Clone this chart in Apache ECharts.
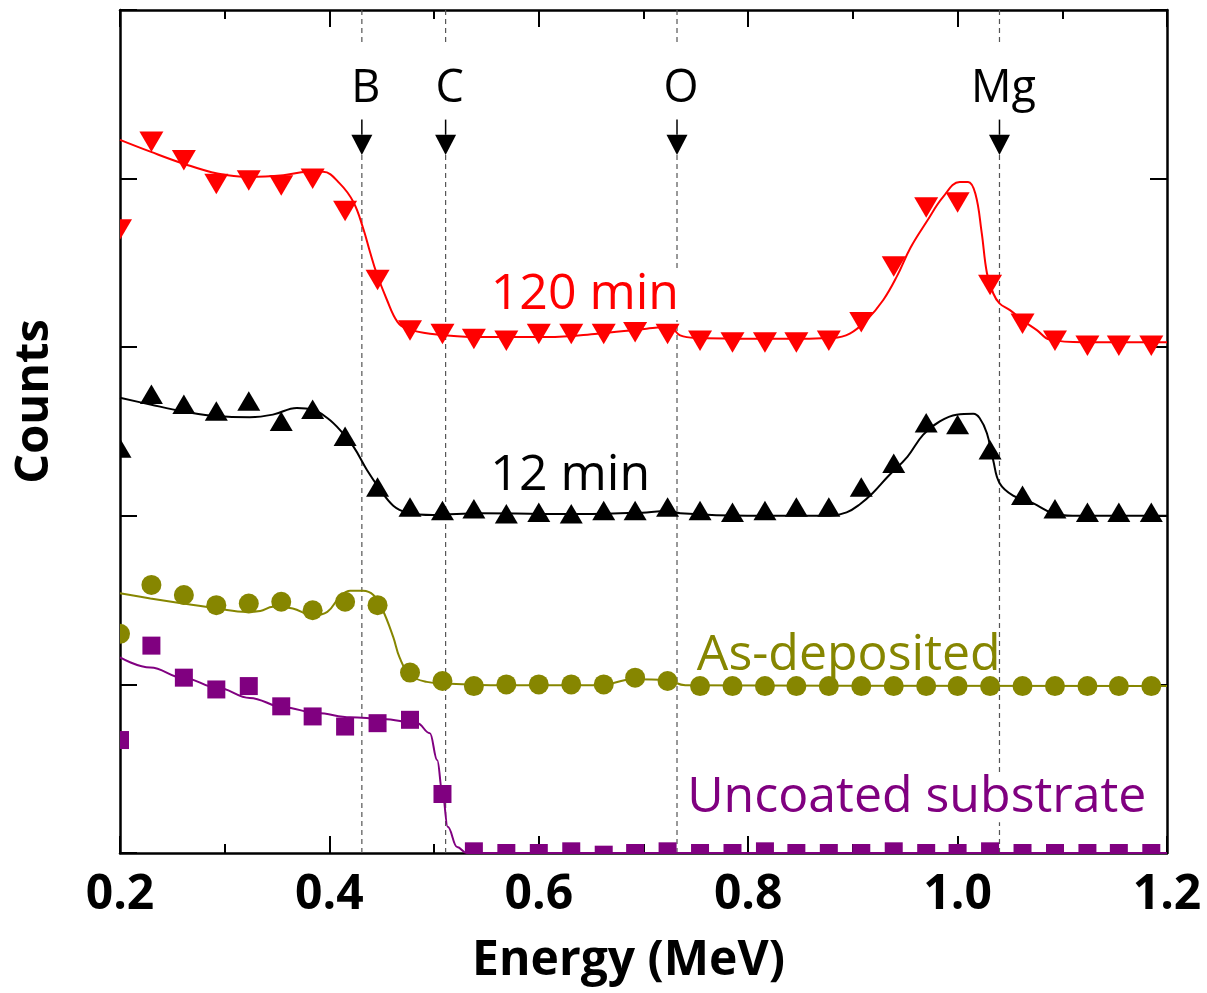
<!DOCTYPE html>
<html>
<head>
<meta charset="utf-8">
<script src="https://cdn.jsdelivr.net/npm/echarts@6/dist/echarts.min.js"></script>
<style>
  html, body { margin: 0; padding: 0; background: #ffffff; }
  #chart { width: 1207px; height: 993px; }
</style>
</head>
<body>
<div id="chart"></div>
<script>
// Channel energies (MeV) of the measured RBS points
const energy = [0.200, 0.230, 0.261, 0.292, 0.323, 0.354, 0.384, 0.415, 0.446, 0.477,
                0.508, 0.538, 0.569, 0.600, 0.631, 0.662, 0.692, 0.723, 0.754, 0.785,
                0.816, 0.846, 0.877, 0.908, 0.939, 0.970, 1.000, 1.031, 1.062, 1.093,
                1.124, 1.154, 1.185];

// Measured counts (stacked, arbitrary units)
const counts120 = [3.70, 4.22, 4.11, 3.97, 3.99, 3.96, 4.00, 3.81, 3.40, 3.10,
                   3.08, 3.05, 3.04, 3.08, 3.08, 3.08, 3.09, 3.08, 3.04, 3.03,
                   3.03, 3.03, 3.04, 3.15, 3.48, 3.83, 3.86, 3.37, 3.14, 3.04,
                   3.01, 3.01, 3.01];
const counts12 = [2.40, 2.72, 2.66, 2.62, 2.68, 2.56, 2.63, 2.47, 2.17, 2.05,
                  2.03, 2.04, 2.01, 2.02, 2.01, 2.03, 2.03, 2.05, 2.03, 2.02,
                  2.03, 2.05, 2.05, 2.17, 2.31, 2.55, 2.54, 2.39, 2.12, 2.04,
                  2.02, 2.02, 2.02];
const countsAsDeposited = [1.30, 1.59, 1.53, 1.47, 1.48, 1.49, 1.44, 1.49, 1.47, 1.07,
                           1.02, 0.99, 1.00, 1.00, 1.00, 1.00, 1.04, 1.02, 0.99, 0.99,
                           0.99, 0.99, 0.99, 0.99, 0.99, 0.99, 0.99, 0.99, 0.99, 0.99,
                           0.99, 0.99, 0.99];
const countsSubstrate = [0.67, 1.23, 1.04, 0.97, 0.99, 0.87, 0.81, 0.75, 0.77, 0.79,
                         0.35, 0.01, 0.00, 0.00, 0.01, -0.01, 0.00, 0.01, 0.00, 0.00,
                         0.01, 0.00, 0.00, 0.00, 0.01, 0.00, 0.00, 0.01, 0.00, 0.00,
                         0.00, 0.00, 0.00];

// Simulated spectra (fits), [energy, counts]
const fit120 = [[0.200,4.23],[0.229,4.16],[0.260,4.09],[0.293,4.03],[0.324,4.01],[0.356,4.02],
  [0.379,4.04],[0.394,4.04],[0.410,3.97],[0.423,3.86],[0.432,3.71],[0.439,3.56],[0.445,3.44],
  [0.455,3.28],[0.465,3.15],[0.474,3.11],[0.496,3.08],[0.544,3.06],[0.608,3.06],[0.656,3.08],
  [0.703,3.11],[0.725,3.12],[0.735,3.07],[0.751,3.055],[0.830,3.05],[0.881,3.055],[0.897,3.08],
  [0.913,3.16],[0.929,3.28],[0.942,3.42],[0.955,3.59],[0.971,3.75],[0.986,3.89],[1.002,3.98],
  [1.010,3.98],[1.017,3.91],[1.023,3.68],[1.028,3.44],[1.034,3.32],[1.040,3.26],[1.050,3.22],
  [1.062,3.16],[1.076,3.10],[1.088,3.045],[1.120,3.03],[1.200,3.03]];
const fit12 = [[0.200,2.70],[0.229,2.66],[0.260,2.62],[0.293,2.59],[0.324,2.585],[0.346,2.60],
  [0.369,2.64],[0.384,2.63],[0.398,2.58],[0.410,2.51],[0.423,2.41],[0.436,2.27],[0.448,2.16],
  [0.461,2.06],[0.474,2.02],[0.499,2.005],[0.544,2.015],[0.639,2.01],[0.703,2.02],[0.725,2.03],
  [0.735,2.015],[0.799,2.00],[0.878,2.00],[0.894,2.02],[0.907,2.07],[0.919,2.135],[0.933,2.23],
  [0.952,2.35],[0.967,2.48],[0.983,2.56],[0.999,2.60],[1.015,2.605],[1.021,2.58],[1.028,2.49],
  [1.034,2.33],[1.040,2.195],[1.053,2.12],[1.072,2.075],[1.091,2.015],[1.110,2.00],[1.200,2.00]];
const fitAsDeposited = [[0.200,1.54],[0.229,1.51],[0.260,1.48],[0.293,1.45],[0.321,1.43],
  [0.334,1.435],[0.346,1.46],[0.365,1.45],[0.384,1.41],[0.398,1.43],[0.410,1.52],[0.420,1.555],
  [0.432,1.555],[0.442,1.53],[0.451,1.44],[0.461,1.28],[0.467,1.16],[0.477,1.055],[0.493,1.015],
  [0.512,1.005],[0.563,0.995],[0.658,0.995],[0.690,1.03],[0.722,1.025],[0.740,0.995],[1.200,0.99]];
const fitSubstrate = [[0.200,1.16],[0.229,1.10],[0.260,1.04],[0.293,0.98],[0.324,0.92],
  [0.356,0.865],[0.388,0.83],[0.420,0.805],[0.451,0.795],[0.484,0.77],[0.496,0.71],[0.503,0.55],
  [0.508,0.355],[0.513,0.155],[0.522,0.035],[0.531,0.00],[1.200,0.00]];

// Surface-edge energies of the elements
const elementNames = ['B', 'C', 'O', 'Mg'];
const elementEnergy = [0.431, 0.511, 0.732, 1.040];

// Curve captions: text, anchor energy, anchor counts
const captionText = ['120 min', '12 min', 'As-deposited', 'Uncoated substrate'];
const captionEnergy = [0.644, 0.630, 0.896, 0.961];
const captionCounts = [3.31, 2.24, 1.17, 0.33];

const RED = '#ff0000', BLACK = '#000000', OLIVE = '#868600', PURPLE = '#800080';
const FONT = '"Open Sans", "Noto Sans", sans-serif';

function markerSeries(name, values, shape, color) {
  return {
    type: 'custom', name: name, z: 4, clip: true, silent: true,
    data: energy.map((e, i) => [e, values[i]]),
    encode: { x: 0, y: 1 },
    renderItem: function (params, api) {
      const p = api.coord([api.value(0), api.value(1)]);
      const x = p[0], y = p[1];
      const style = { fill: color };
      if (shape === 'down') {
        return { type: 'polygon', shape: { points: [[x - 12, y - 10], [x + 12, y - 10], [x, y + 10.5]] }, style };
      }
      if (shape === 'up') {
        return { type: 'polygon', shape: { points: [[x - 11.5, y + 9.5], [x + 11.5, y + 9.5], [x, y - 10]] }, style };
      }
      if (shape === 'circle') {
        return { type: 'circle', shape: { cx: x, cy: y, r: 10 }, style };
      }
      return { type: 'rect', shape: { x: x - 9, y: y - 9, width: 18, height: 18 }, style };
    }
  };
}

function fitSeries(name, pts, color, mono) {
  return {
    type: 'line', name: name, data: pts, z: 3, clip: true, silent: true,
    smooth: 0.4, smoothMonotone: mono ? 'x' : undefined, showSymbol: false, symbol: 'none',
    lineStyle: { color: color, width: 2 }, itemStyle: { color: color }
  };
}

const dashStyle = { stroke: '#555555', lineWidth: 1.2, lineDash: [5, 4] };

const elementSeries = {
  type: 'custom', name: 'edges', z: 1, clip: false, silent: true,
  data: elementEnergy.map((e, i) => [e, i]),
  encode: { x: 0 },
  renderItem: function (params, api) {
    const e = api.value(0);
    const name = elementNames[api.value(1)];
    const top = api.coord([e, 5]);
    const gapStart = api.coord([e, 4.79]);
    const stemTop = api.coord([e, 4.35]);
    const headTop = api.coord([e, 4.26]);
    const tip = api.coord([e, 4.14]);
    const bottom = api.coord([e, 0]);
    const txt = api.coord([e, 4.53]);
    const x = top[0];
    return {
      type: 'group',
      children: [
        { type: 'line', shape: { x1: x, y1: top[1], x2: x, y2: gapStart[1] }, style: dashStyle },
        { type: 'line', shape: { x1: x, y1: tip[1], x2: x, y2: bottom[1] }, style: dashStyle },
        { type: 'line', shape: { x1: x, y1: stemTop[1], x2: x, y2: headTop[1] }, style: { stroke: '#000', lineWidth: 1.5 } },
        { type: 'polygon', shape: { points: [[x - 10.5, headTop[1]], [x + 10.5, headTop[1]], [x, tip[1]]] }, style: { fill: '#000' } },
        { type: 'text', x: x + 4, y: txt[1],
          style: { text: name, fill: '#000', fontSize: 45, fontFamily: FONT, fontWeight: 'normal',
                   align: 'center', textAlign: 'center', verticalAlign: 'middle', textVerticalAlign: 'middle' } }
      ]
    };
  }
};

const captionColors = [RED, BLACK, OLIVE, PURPLE];
const captionBoxed = [true, false, false, true];
const captionSeries = {
  type: 'custom', name: 'captions', z: 2, clip: false, silent: true,
  data: captionText.map((t, i) => [captionEnergy[i], captionCounts[i], i]),
  encode: { x: 0, y: 1 },
  renderItem: function (params, api) {
    const i = api.value(2);
    const p = api.coord([api.value(0), api.value(1)]);
    const style = { text: captionText[i], fill: captionColors[i], fontSize: 50, fontFamily: FONT,
                    align: 'center', textAlign: 'center', verticalAlign: 'middle', textVerticalAlign: 'middle' };
    if (captionBoxed[i]) { style.backgroundColor = '#ffffff'; style.padding = [0, 2]; }
    return { type: 'text', x: p[0], y: p[1], style: style };
  }
};

const axisLineStyle = { color: '#000', width: 2.5 };
const tickStyle = { color: '#000', width: 2 };

const option = {
  animation: false,
  backgroundColor: '#ffffff',
  grid: { left: 120, right: 40, top: 10, bottom: 140, containLabel: false, outerBoundsMode: 'none' },
  xAxis: [
    {
      type: 'value', min: 0.2, max: 1.2, interval: 0.2, position: 'bottom',
      axisLine: { show: true, onZero: false, lineStyle: axisLineStyle },
      axisTick: { show: true, inside: true, length: 17, lineStyle: tickStyle },
      minorTick: { show: true, splitNumber: 2, length: 9, lineStyle: tickStyle },
      splitLine: { show: false }, minorSplitLine: { show: false },
      axisLabel: { show: true, margin: 18, fontSize: 48, fontWeight: 'bold', fontFamily: FONT, color: '#000',
                   formatter: v => v.toFixed(1) },
      name: 'Energy (MeV)', nameLocation: 'middle', nameGap: 84, nameMoveOverlap: false,
      nameTextStyle: { fontSize: 48, fontWeight: 'bold', fontFamily: FONT, color: '#000', padding: [0, 30, 0, 0] }
    },
    {
      type: 'value', min: 0.2, max: 1.2, interval: 0.2, position: 'top',
      axisLine: { show: true, onZero: false, lineStyle: axisLineStyle },
      axisTick: { show: true, inside: true, length: 17, lineStyle: tickStyle },
      minorTick: { show: true, splitNumber: 2, length: 9, lineStyle: tickStyle },
      splitLine: { show: false }, axisLabel: { show: false }
    }
  ],
  yAxis: [
    {
      type: 'value', min: 0, max: 5, interval: 1, position: 'left',
      axisLine: { show: true, onZero: false, lineStyle: axisLineStyle },
      axisTick: { show: true, inside: true, length: 17, lineStyle: tickStyle },
      splitLine: { show: false }, axisLabel: { show: false },
      name: 'Counts', nameLocation: 'middle', nameGap: 62, nameMoveOverlap: false,
      nameTextStyle: { fontSize: 47, fontWeight: 'bold', fontFamily: FONT, color: '#000', padding: [0, 0, 0, 60] }
    },
    {
      type: 'value', min: 0, max: 5, interval: 1, position: 'right',
      axisLine: { show: true, onZero: false, lineStyle: axisLineStyle },
      axisTick: { show: true, inside: true, length: 17, lineStyle: tickStyle },
      splitLine: { show: false }, axisLabel: { show: false }
    }
  ],
  series: [
    elementSeries,
    captionSeries,
    fitSeries('120 min fit', fit120, RED, false),
    fitSeries('12 min fit', fit12, BLACK, false),
    fitSeries('As-deposited fit', fitAsDeposited, OLIVE, false),
    fitSeries('Uncoated substrate fit', fitSubstrate, PURPLE, true),
    markerSeries('120 min', counts120, 'down', RED),
    markerSeries('12 min', counts12, 'up', BLACK),
    markerSeries('As-deposited', countsAsDeposited, 'circle', OLIVE),
    markerSeries('Uncoated substrate', countsSubstrate, 'square', PURPLE)
  ]
};

const chart = echarts.init(document.getElementById('chart'), null, { renderer: 'canvas' });
chart.setOption(option);
</script>
</body>
</html>
